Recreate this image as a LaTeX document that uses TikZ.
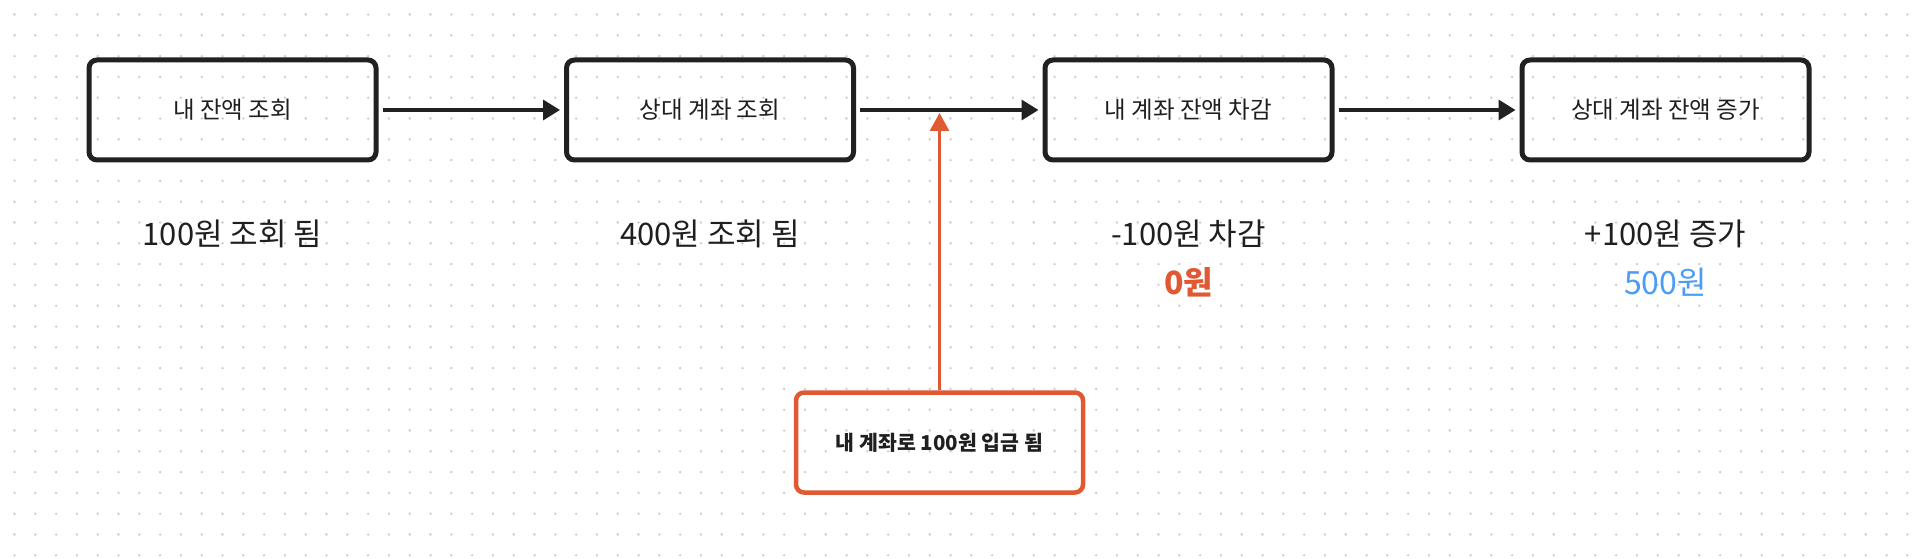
\documentclass[tikz,border=0pt]{standalone}
\usepackage{fontspec}
\setmainfont{Noto Sans CJK KR}
\usetikzlibrary{arrows.meta}

\begin{document}
\begin{tikzpicture}[x=1pt,y=1pt]
\definecolor[named]{fillColor}{rgb}{1.00,1.00,1.00}
\definecolor[named]{dotColor}{rgb}{0.80,0.80,0.80}
\definecolor[named]{drawColor}{rgb}{0.13,0.13,0.13}
\definecolor[named]{textColor}{rgb}{0.12,0.12,0.12}
\definecolor[named]{alertColor}{rgb}{0.88,0.35,0.20}
\definecolor[named]{sumColor}{rgb}{0.29,0.61,0.96}
\tikzset{
  stepbox/.style={draw=drawColor,line width=5pt,rounded corners=8pt,
    minimum width=287pt,minimum height=100pt,inner sep=0pt,
    text=textColor,font=\fontsize{23.5}{27}\selectfont},
  alertbox/.style={stepbox,draw=alertColor,line width=4.5pt,minimum width=287pt,
    font=\fontsize{20.5}{24}\selectfont\bfseries},
  flow/.style={draw=drawColor,line width=3.5pt,
    -{Triangle[length=17pt,width=20pt]},shorten <=4pt,shorten >=4pt},
  hint/.style={draw=alertColor,line width=3pt,
    -{Triangle[length=18pt,width=19pt]}},
  notetext/.style={text=textColor,inner sep=0pt,font=\fontsize{31}{35}\selectfont},
  sumtext/.style={inner sep=0pt,font=\fontsize{32}{36}\selectfont}
}
\path[use as bounding box,fill=fillColor] (0,0) rectangle (1918,558);

% dot grid
\foreach \i in {0,...,91}
  \foreach \j in {0,...,26}
    \fill[dotColor] (14.5+20.8*\i,543.5-20.8*\j) circle (1.3);

% steps
\node[stepbox] (lookMine) at ( 232.5,448) {내 잔액 조회};
\node[stepbox] (lookOther) at ( 710.0,448) {상대 계좌 조회};
\node[stepbox] (takeMine) at (1188.5,448) {내 계좌 잔액 차감};
\node[stepbox] (giveOther) at (1665.5,448) {상대 계좌 잔액 증가};

\draw[flow] (lookMine) -- (lookOther);
\draw[flow] (lookOther) -- (takeMine);
\draw[flow] (takeMine) -- (giveOther);

% interrupting deposit
\node[alertbox] (deposit) at (939.5,115.5) {내 계좌로 100원 입금 됨};
\coordinate (hit) at (939.5,445);
\draw[hint] (deposit.north) -- (hit);

% results
\node[notetext] (noteA) at ( 232.5,324) {100원 조회 됨};
\node[notetext] (noteB) at ( 710.0,324) {400원 조회 됨};
\node[notetext] (noteC) at (1188.5,324) {-100원 차감};
\node[notetext] (noteD) at (1665.5,324) {+100원 증가};

\node[sumtext,text=alertColor,font=\fontsize{32}{36}\selectfont\bfseries] (sumC) at (1188.5,276) {0원};
\node[sumtext,text=sumColor] (sumD) at (1665.5,276) {500원};
\end{tikzpicture}
\end{document}
